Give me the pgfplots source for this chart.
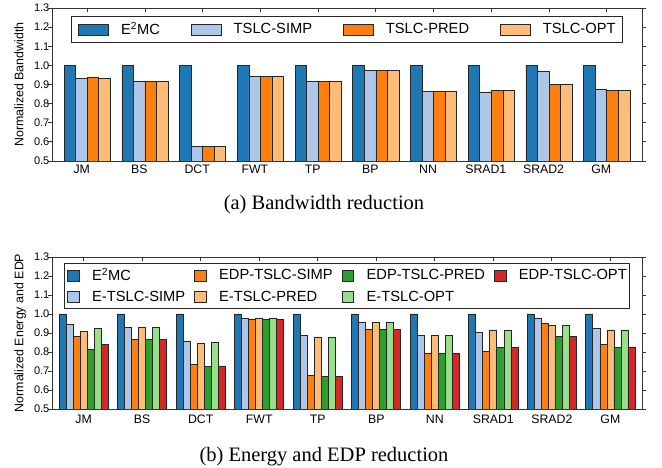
\documentclass[border=0pt]{standalone}
\usepackage{fontspec}
\setmainfont{Liberation Sans}
\newfontfamily\capfont{Liberation Serif}
\usepackage{pgfplots}
\pgfplotsset{compat=1.18}

\definecolor{tbBlue}{HTML}{1F77B4}
\definecolor{tbLBlue}{HTML}{AEC7E8}
\definecolor{tbOrange}{HTML}{FF7F0E}
\definecolor{tbLOrange}{HTML}{FFBB78}
\definecolor{tbGreen}{HTML}{2CA02C}
\definecolor{tbLGreen}{HTML}{98DF8A}
\definecolor{tbRed}{HTML}{D62728}

\pgfplotsset{
  barchart/.style={
    scale only axis,
    width=590pt,
    ybar=0pt,
    ymin=0.5, ymax=1.3,
    ytick={0.5,0.6,...,1.3},
    xtick={0,...,9},
    xticklabels={JM,BS,DCT,FWT,TP,BP,NN,SRAD1,SRAD2,GM},
    xtick align=inside,
    ytick align=outside,
    yticklabel pos=left,
    major tick length=4pt,
    axis line style={black!80,line width=0.8pt},
    tick style={black!80,line width=0.8pt},
    /pgf/number format/assume math mode=true,
    yticklabel style={/pgf/number format/.cd,fixed,fixed zerofill,precision=1,
      /tikz/.cd,font=\fontsize{11}{13}\selectfont,anchor=east,inner sep=1pt,xshift=2.5pt},
    xticklabel style={font=\fontsize{12.3}{14}\selectfont,anchor=base},
    every axis y label/.style={at={(axis description cs:0,0.5)},xshift=-28.7pt,
      rotate=90,anchor=base,font=\fontsize{12.4}{14}\selectfont},
    legend cell align=left,
    every axis plot/.append style={draw=black!85,line width=0.7pt},
  },
  % square swatch for the energy legend
  sw/.style={legend image code/.code={\draw[fill=#1,draw=black!85,line width=0.7pt]
    (0pt,-5.5pt) rectangle (11.5pt,5.5pt);}},
}

\begin{document}
\begin{tikzpicture}
\path[use as bounding box] (0pt,0pt) rectangle (662pt,-468pt);

% (a) bandwidth
\begin{axis}[
  barchart,
  at={(52pt,-8pt)}, anchor=north west,
  height=153pt,
  xmin=-0.61, xmax=9.61,
  bar width=0.2,
  xticklabel style={yshift=-12.3pt,xshift=-5.5pt},
  ylabel={Normalized Bandwidth},
  legend columns=4,
  legend image code/.code={\draw[#1] (0pt,-5.5pt) rectangle (30pt,5.5pt);},
  legend style={at={(0.5,1)},anchor=north,yshift=-8pt,
    draw=black!85,line width=0.8pt,inner xsep=7pt,inner ysep=6pt,
    font=\fontsize{14.7}{16}\selectfont,
    nodes={inner sep=0pt},
    /tikz/every odd column/.style={column sep=12pt},
    /tikz/every even column/.style={column sep=31pt}},
]
\addplot[fill=tbBlue] coordinates {(0,1.0) (1,1.0) (2,1.0) (3,1.0) (4,1.0) (5,1.0) (6,1.0) (7,1.0) (8,1.0) (9,1.0)};
\addplot[fill=tbLBlue] coordinates {(0,0.933) (1,0.914) (2,0.574) (3,0.944) (4,0.914) (5,0.972) (6,0.863) (7,0.861) (8,0.967) (9,0.874)};
\addplot[fill=tbOrange] coordinates {(0,0.939) (1,0.914) (2,0.574) (3,0.944) (4,0.918) (5,0.972) (6,0.863) (7,0.870) (8,0.902) (9,0.868)};
\addplot[fill=tbLOrange] coordinates {(0,0.933) (1,0.914) (2,0.574) (3,0.944) (4,0.914) (5,0.972) (6,0.863) (7,0.870) (8,0.902) (9,0.868)};
\legend{E\textsuperscript{2}MC,TSLC-SIMP,TSLC-PRED,TSLC-OPT}
\end{axis}
\node[font=\capfont\fontsize{20.5}{24}\selectfont] at (324pt,-205pt) {(a) Bandwidth reduction};

% (b) energy and EDP
\begin{axis}[
  barchart,
  at={(52pt,-257pt)}, anchor=north west,
  height=152pt,
  xmin=-0.54, xmax=9.54,
  bar width=0.12,
  xticklabel style={yshift=-15pt},
  ylabel={Normalized Energy and EDP},
  legend columns=4,
  legend style={at={(0.5,1)},anchor=north,yshift=-6pt,
    draw=black!85,line width=0.8pt,inner xsep=3pt,inner ysep=5pt,
    font=\fontsize{14.7}{16}\selectfont,
    nodes={inner sep=0pt},
    row sep=9pt,
    /tikz/every odd column/.style={column sep=12.7pt},
    /tikz/every even column/.style={column sep=9pt}},
]
\addplot[fill=tbBlue,forget plot,bar shift=-0.36] coordinates {(0,1.0) (1,1.0) (2,1.0) (3,1.0) (4,1.0) (5,1.0) (6,1.0) (7,1.0) (8,1.0) (9,1.0)};
\addplot[fill=tbLBlue,forget plot,bar shift=-0.24] coordinates {(0,0.947) (1,0.930) (2,0.856) (3,0.977) (4,0.888) (5,0.956) (6,0.887) (7,0.905) (8,0.975) (9,0.923)};
\addplot[fill=tbOrange,forget plot,bar shift=-0.12] coordinates {(0,0.884) (1,0.868) (2,0.736) (3,0.972) (4,0.676) (5,0.917) (6,0.792) (7,0.805) (8,0.949) (9,0.838)};
\addplot[fill=tbLOrange,forget plot,bar shift=0] coordinates {(0,0.907) (1,0.930) (2,0.847) (3,0.975) (4,0.879) (5,0.956) (6,0.887) (7,0.916) (8,0.942) (9,0.916)};
\addplot[fill=tbGreen,forget plot,bar shift=0.12] coordinates {(0,0.812) (1,0.868) (2,0.724) (3,0.972) (4,0.671) (5,0.917) (6,0.792) (7,0.822) (8,0.880) (9,0.824)};
\addplot[fill=tbLGreen,forget plot,bar shift=0.24] coordinates {(0,0.923) (1,0.930) (2,0.852) (3,0.975) (4,0.879) (5,0.956) (6,0.887) (7,0.916) (8,0.940) (9,0.916)};
\addplot[fill=tbRed,forget plot,bar shift=0.36] coordinates {(0,0.838) (1,0.868) (2,0.727) (3,0.972) (4,0.673) (5,0.917) (6,0.792) (7,0.826) (8,0.880) (9,0.827)};
\addlegendimage{sw=tbBlue}
\addlegendentry{E\textsuperscript{2}MC}
\addlegendimage{sw=tbOrange}
\addlegendentry{EDP-TSLC-SIMP}
\addlegendimage{sw=tbGreen}
\addlegendentry{EDP-TSLC-PRED}
\addlegendimage{sw=tbRed}
\addlegendentry{EDP-TSLC-OPT}
\addlegendimage{sw=tbLBlue}
\addlegendentry{E-TSLC-SIMP}
\addlegendimage{sw=tbLOrange}
\addlegendentry{E-TSLC-PRED}
\addlegendimage{sw=tbLGreen}
\addlegendentry{E-TSLC-OPT}
\end{axis}
\node[font=\capfont\fontsize{20.5}{24}\selectfont] at (324pt,-457pt) {(b) Energy and EDP reduction};
\end{tikzpicture}
\end{document}
